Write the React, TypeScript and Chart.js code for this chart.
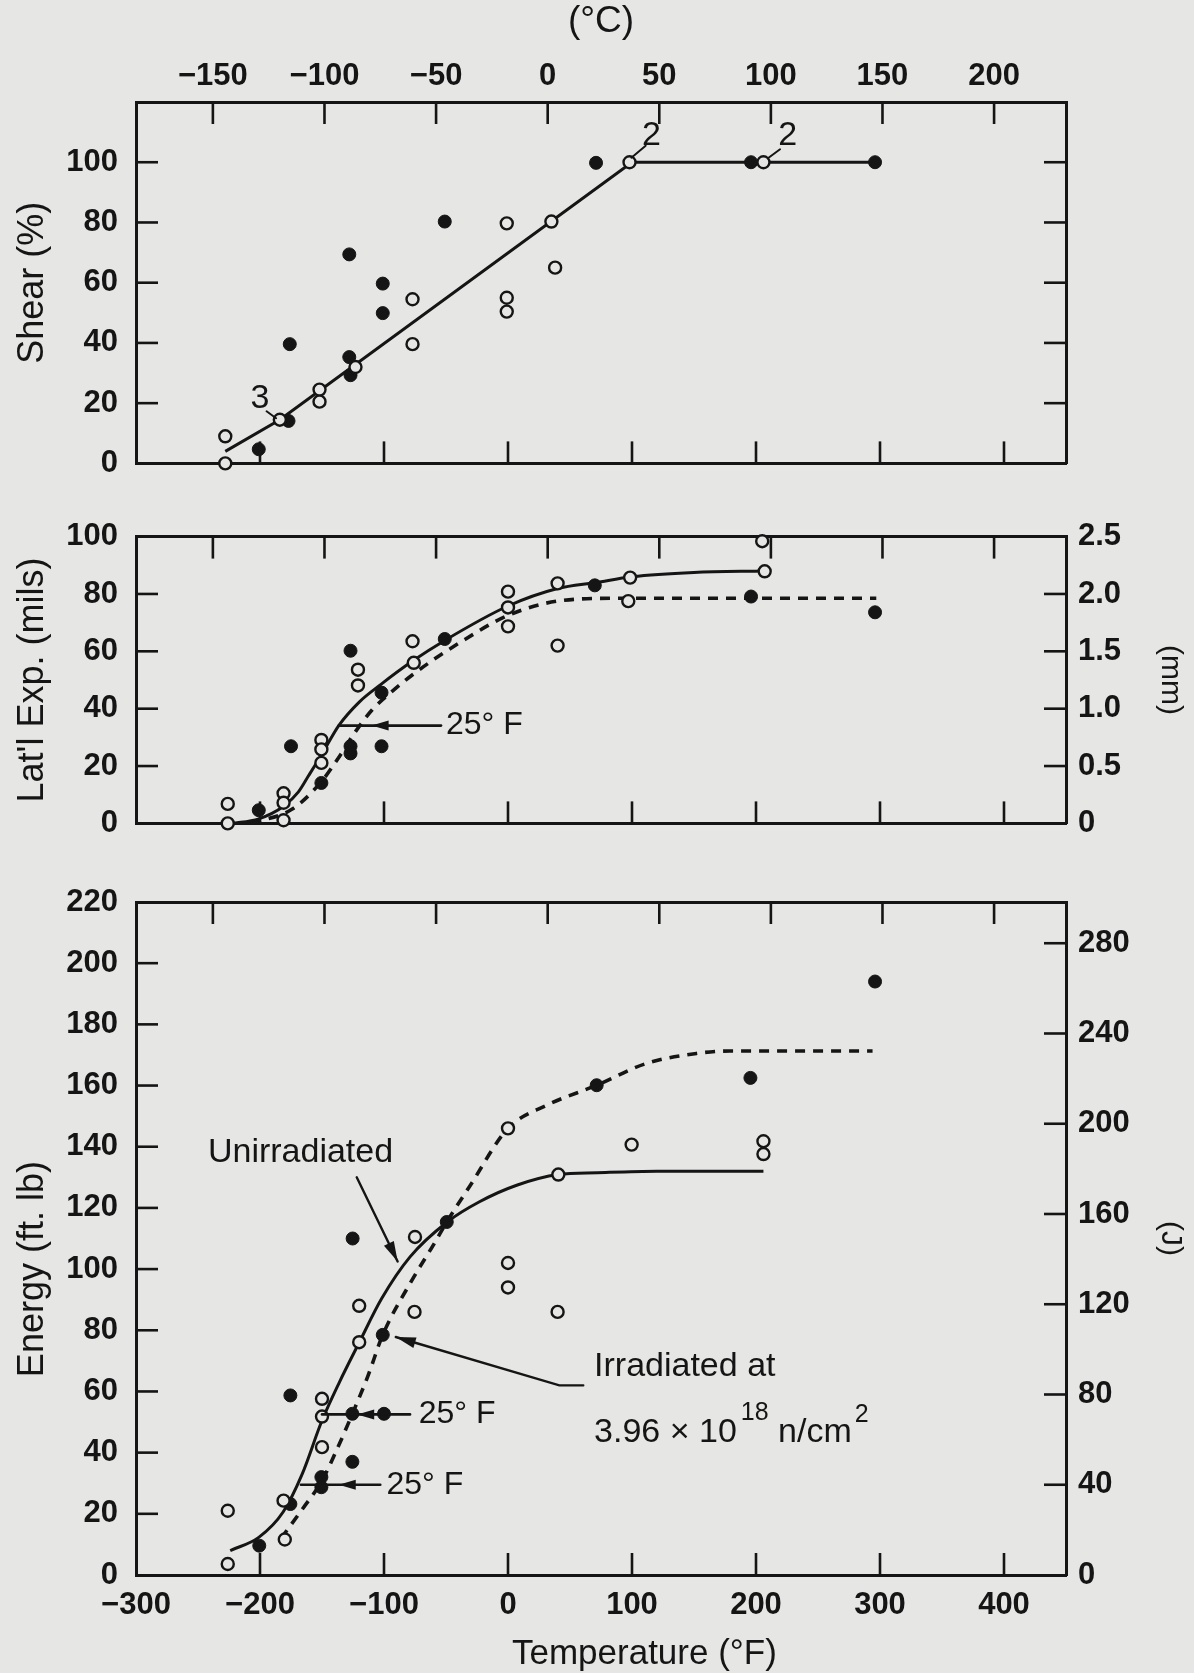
import React, { useEffect, useRef } from 'react';
import { Chart, registerables } from 'chart.js';

Chart.register(...registerables);

const PAPER = '#e6e6e4';
const INK = '#151515';
const NUM_FONT = "'Liberation Sans Narrow', 'Liberation Sans', Arial, sans-serif";
const TXT_FONT = "'Liberation Sans', Arial, sans-serif";

// ---------- tick values ----------
const fahrenheitTicks = [-300, -200, -100, 0, 100, 200, 300, 400];
const celsiusTicks = [-150, -100, -50, 0, 50, 100, 150, 200];
const shearTicks = [0, 20, 40, 60, 80, 100];
const expTicks = [0, 20, 40, 60, 80, 100];
const mmTicks = [0, 0.5, 1.0, 1.5, 2.0, 2.5];
const energyTicks = [0, 20, 40, 60, 80, 100, 120, 140, 160, 180, 200, 220];
const jouleTicks = [0, 40, 80, 120, 160, 200, 240, 280];

// ---------- Shear (%) ----------
const shearOpenF = [-228, -228, -184, -152, -152, -123, -77, -77, -1, -1, -1, 35, 38, 98, 206];
const shearOpenPct = [9, 0, 14.5, 24.5, 20.5, 32, 54.5, 39.6, 79.7, 55, 50.4, 80.3, 65, 100, 100];
const shearFilledF = [-201, -177, -176, -128, -128, -127, -101, -101, -51, 71, 196, 296];
const shearFilledPct = [4.7, 14.1, 39.6, 69.4, 35.3, 29.3, 59.7, 49.9, 80.3, 99.8, 100, 100];
const shearFitF = [-228, -184, 100, 296];
const shearFitPct = [4, 14.5, 100, 100];

// ---------- Lateral expansion (mils) ----------
const expOpenF = [-226, -226, -181, -181, -181, -150.5, -150.5, -150.5, -121, -121, -77, -76, 0, 0, 0, 40, 40, 98.5, 97, 207, 205];
const expOpenMils = [6.8, 0, 10.5, 7.2, 1.1, 29.1, 25.8, 21.1, 53.6, 48.1, 63.5, 56, 80.8, 75.3, 68.7, 83.7, 62, 85.7, 77.5, 87.9, 98.4];
const expFilledF = [-201, -175, -150.5, -127, -127, -127, -102, -102, -51, 70, 196, 296];
const expFilledMils = [4.6, 26.9, 14.1, 60.2, 26.9, 24.4, 45.6, 26.9, 64.3, 83, 79.1, 73.6];
const expUnirrF = [-223, -201, -181, -169, -161, -150, -136.5, -120, -102.7, -77, -51, 0, 40, 71, 100, 150, 207];
const expUnirrMils = [0, 1.6, 6, 11, 16.5, 24.2, 34.1, 42.3, 48.4, 56.6, 63.8, 75.8, 81.9, 84, 86, 87.5, 88];
const expIrrF = [-207, -174, -151, -136.5, -123, -109.5, -93, -74, -39, 0, 40, 90, 150, 297];
const expIrrMils = [0, 5, 14.3, 23, 32, 39.6, 46.2, 52.8, 63, 72.5, 77.5, 78.5, 78.5, 78.5];

// ---------- Energy (ft-lb) ----------
const energyOpenF = [-226, -226, -180, -181, -150, -150, -150, -120, -120, -75.4, -75, 0, 0, 0, 40, 40.6, 99.7, 206, 206];
const energyOpenFtlb = [3.6, 21, 11.6, 24.3, 57.6, 51.8, 41.8, 76.1, 88, 86, 110.5, 146, 102, 94, 86, 130.9, 140.7, 141.8, 137.6];
const energyFilledF = [-200.6, -175.5, -175.5, -150.5, -150.5, -125.5, -100, -125.5, -101, -125.3, -49.4, 71.5, 195.5, 296];
const energyFilledFtlb = [9.6, 58.7, 23.2, 32, 28.7, 52.7, 52.7, 37, 78.5, 110, 115.4, 160.1, 162.5, 194];
const energyUnirrF = [-224, -201, -181.5, -166, -150, -136, -120, -102, -79, -49, -23, 7, 40.6, 72, 120, 206];
const energyUnirrFtlb = [8, 12.3, 20.5, 33, 50.5, 63, 76, 90.3, 104, 115.4, 122, 127.4, 130.9, 131.5, 132, 132];
const energyIrrF = [-183, -165, -150.5, -138, -125.5, -113, -101, -78, -60, -49.4, -31, 0, 31, 71.5, 111.5, 152, 179, 294];
const energyIrrFtlb = [12, 22, 30.5, 41, 52.7, 65, 78.5, 96, 108, 115.4, 127, 146, 153.5, 160.1, 167.2, 170.5, 171.3, 171.3];

// ---------- annotations (data coordinates) ----------
const shearLabels = [
  { text: '3', x: -200, y: 21.4 },
  { text: '2', x: 115.6, y: 109 },
  { text: '2', x: 225.6, y: 109 },
];
const shearLeaders = [
  [[-194.7, 17.3], [-187, 15]],
  [[99.5, 101.5], [111, 105.5]],
  [[209.6, 101.3], [219.4, 104.3]],
];
const expShiftNotes = [{ y: 34.1, from: -136.5, to: -54, tip: -110, text: '25\u00b0 F', textX: -50 }];
const energyShiftNotes = [
  { y: 52.5, from: -150, to: -79, tip: -121.6, text: '25\u00b0 F', textX: -72 },
  { y: 29.5, from: -167, to: -103, tip: -136.5, text: '25\u00b0 F', textX: -98 },
];
const unirrNote = { text: 'Unirradiated', x: -242, y: 138, arrowFrom: [-122, 130], arrowTo: [-89, 102.5] };
const irrNote = {
  line1: 'Irradiated at', x: 69.4, y1: 68,
  base: '3.96 \u00d7 10', exp: '18', unit: ' n/cm', unitExp: '2', y2: 46.5,
  path: [[60.7, 62], [41.4, 62], [-90.5, 77.8]],
};

const T_MIN = -300;
const T_MAX = 450;
const SHEAR_MAX = 120;
const EXP_MAX = 100;
const MM_MAX = 2.5;
const ENERGY_MAX = 220;
const J_PER_FTLB = 1.3558;
const toC = (f: number) => (f - 32) / 1.8;

const pts = (xs: number[], ys: number[]) => xs.map((x, i) => ({ x, y: ys[i] }));
const fmt = (v: number) => (v < 0 ? '\u2212' + Math.abs(v) : String(v));
const setTicks = (vals: number[]) => (s: any) => {
  s.ticks = vals.map((v) => ({ value: v }));
};
const fixW = (w: number) => (s: any) => {
  s.width = w;
};
const fixH = (h: number) => (s: any) => {
  s.height = h;
};

const numFont = { family: NUM_FONT, size: 31, weight: 'bold' as const };
const txtFont = (size: number) => ({ family: TXT_FONT, size, weight: 'normal' as const });
const border = { display: true, width: 3, color: INK };
const noGrid = { display: false, drawTicks: false, drawOnChartArea: false };

const LEFT_W = 136;
const RIGHT_W = 128;

function xScales(topH: number, bottomH: number, bottomLabels: boolean, topLabels: boolean) {
  return {
    x: {
      type: 'linear',
      position: 'bottom',
      min: T_MIN,
      max: T_MAX,
      afterBuildTicks: setTicks(fahrenheitTicks),
      afterFit: fixH(bottomH),
      grid: noGrid,
      border,
      ticks: {
        display: bottomLabels,
        padding: 12,
        color: INK,
        font: numFont,
        autoSkip: false,
        maxRotation: 0,
        minRotation: 0,
        callback: (v: number) => fmt(v),
      },
    },
    xc: {
      type: 'linear',
      position: 'top',
      min: toC(T_MIN),
      max: toC(T_MAX),
      afterBuildTicks: setTicks(celsiusTicks),
      afterFit: fixH(topH),
      grid: noGrid,
      border,
      ticks: {
        display: topLabels,
        padding: 7,
        color: INK,
        font: numFont,
        autoSkip: false,
        maxRotation: 0,
        minRotation: 0,
        callback: (v: number) => fmt(v),
      },
      title: {
        display: topLabels,
        text: '(\u00b0C)',
        color: INK,
        font: txtFont(37),
        padding: { top: 0, bottom: 0 },
      },
    },
  };
}

function yScale(max: number, ticks: number[], position: 'left' | 'right', showLabels: boolean, title: string | null, fmtFn: (v: number) => string, titleSize = 36, titlePad = 11) {
  return {
    type: 'linear',
    position,
    min: 0,
    max,
    afterBuildTicks: setTicks(ticks),
    afterFit: fixW(position === 'left' ? LEFT_W : RIGHT_W),
    grid: noGrid,
    border,
    ticks: {
      display: showLabels,
      padding: position === 'left' ? 18 : 12,
      color: INK,
      font: numFont,
      autoSkip: false,
      callback: (v: number) => fmtFn(v),
    },
    title: {
      display: !!title,
      text: title || '',
      color: INK,
      font: txtFont(titleSize),
      padding: { top: titlePad, bottom: 0 },
    },
  };
}

// ---------- drawing helpers ----------
const inwardTicks = {
  id: 'inwardTicks',
  afterDatasetsDraw(chart: any) {
    const { ctx, chartArea: a } = chart;
    const L = 22;
    ctx.save();
    ctx.strokeStyle = INK;
    ctx.lineWidth = 2.6;
    Object.values(chart.scales).forEach((s: any) => {
      const pos = s.options.position;
      const horiz = pos === 'top' || pos === 'bottom';
      const lo = horiz ? a.left : a.top;
      const hi = horiz ? a.right : a.bottom;
      s.ticks.forEach((t: any) => {
        const p = s.getPixelForValue(t.value);
        if (p < lo + 6 || p > hi - 6) return;
        ctx.beginPath();
        if (pos === 'bottom') {
          ctx.moveTo(p, a.bottom);
          ctx.lineTo(p, a.bottom - L);
        } else if (pos === 'top') {
          ctx.moveTo(p, a.top);
          ctx.lineTo(p, a.top + L);
        } else if (pos === 'left') {
          ctx.moveTo(a.left, p);
          ctx.lineTo(a.left + L, p);
        } else {
          ctx.moveTo(a.right, p);
          ctx.lineTo(a.right - L, p);
        }
        ctx.stroke();
      });
    });
    ctx.restore();
  },
};

function P(chart: any, x: number, y: number): [number, number] {
  return [chart.scales.x.getPixelForValue(x), chart.scales.y.getPixelForValue(y)];
}
function strokePath(ctx: CanvasRenderingContext2D, p: [number, number][], w = 2.5) {
  ctx.lineWidth = w;
  ctx.beginPath();
  p.forEach(([x, y], i) => (i ? ctx.lineTo(x, y) : ctx.moveTo(x, y)));
  ctx.stroke();
}
function arrowHead(ctx: CanvasRenderingContext2D, tip: [number, number], from: [number, number], len = 17, half = 5) {
  const ang = Math.atan2(tip[1] - from[1], tip[0] - from[0]);
  const bx = tip[0] - len * Math.cos(ang);
  const by = tip[1] - len * Math.sin(ang);
  const nx = -Math.sin(ang) * half;
  const ny = Math.cos(ang) * half;
  ctx.beginPath();
  ctx.moveTo(tip[0], tip[1]);
  ctx.lineTo(bx + nx, by + ny);
  ctx.lineTo(bx - nx, by - ny);
  ctx.closePath();
  ctx.fill();
}
function text(ctx: CanvasRenderingContext2D, s: string, x: number, y: number, size: number, align: CanvasTextAlign = 'left') {
  ctx.font = `normal ${size}px ${TXT_FONT}`;
  ctx.textAlign = align;
  ctx.textBaseline = 'middle';
  ctx.fillText(s, x, y);
}
function shiftNote(chart: any, n: any) {
  const { ctx } = chart;
  strokePath(ctx, [P(chart, n.from, n.y), P(chart, n.to, n.y)], 2.6);
  const tip = P(chart, n.tip, n.y);
  arrowHead(ctx, tip, [tip[0] + 30, tip[1]]);
  const tp = P(chart, n.textX, n.y);
  text(ctx, n.text, tp[0], tp[1], 32);
}
function notesPlugin(draw: (chart: any) => void) {
  return {
    id: 'notes',
    afterDatasetsDraw(chart: any) {
      const { ctx } = chart;
      ctx.save();
      ctx.strokeStyle = INK;
      ctx.fillStyle = INK;
      ctx.lineCap = 'round';
      draw(chart);
      ctx.restore();
    },
  };
}

const openStyle = { pointRadius: 6, pointBackgroundColor: PAPER, pointBorderColor: INK, pointBorderWidth: 2.4, showLine: false, clip: false };
const filledStyle = { pointRadius: 6.5, pointBackgroundColor: INK, pointBorderColor: INK, pointBorderWidth: 1, showLine: false, clip: false };
const solidStyle = { showLine: true, pointRadius: 0, borderColor: INK, borderWidth: 3, cubicInterpolationMode: 'monotone', clip: false };
const dashedStyle = { ...solidStyle, borderWidth: 3.6, borderDash: [10, 8] };

const baseOptions = {
  responsive: false,
  maintainAspectRatio: false,
  animation: false,
  events: [],
  layout: { padding: 0 },
  plugins: { legend: { display: false }, tooltip: { enabled: false }, title: { display: false } },
};

function shearConfig(): any {
  return {
    type: 'scatter',
    data: {
      datasets: [
        { label: 'Unirradiated', data: pts(shearOpenF, shearOpenPct), ...openStyle },
        { label: 'Irradiated', data: pts(shearFilledF, shearFilledPct), ...filledStyle },
        { label: 'Fit', data: pts(shearFitF, shearFitPct), ...solidStyle, cubicInterpolationMode: 'default', tension: 0 },
      ],
    },
    options: {
      ...baseOptions,
      scales: {
        ...xScales(102, 28, false, true),
        y: yScale(SHEAR_MAX, shearTicks, 'left', true, 'Shear (%)', fmt),
        y2: yScale(SHEAR_MAX, shearTicks, 'right', false, null, fmt),
      },
    },
    plugins: [
      inwardTicks,
      notesPlugin((chart) => {
        const { ctx } = chart;
        shearLeaders.forEach((l) => strokePath(ctx, l.map(([x, y]) => P(chart, x, y)), 2));
        shearLabels.forEach((l) => {
          const p = P(chart, l.x, l.y);
          text(ctx, l.text, p[0], p[1], 34, 'center');
        });
      }),
    ],
  };
}

function expConfig(): any {
  return {
    type: 'scatter',
    data: {
      datasets: [
        { label: 'Unirradiated', data: pts(expOpenF, expOpenMils), ...openStyle },
        { label: 'Irradiated', data: pts(expFilledF, expFilledMils), ...filledStyle },
        { label: 'Unirradiated fit', data: pts(expUnirrF, expUnirrMils), ...solidStyle },
        { label: 'Irradiated fit', data: pts(expIrrF, expIrrMils), ...dashedStyle },
      ],
    },
    options: {
      ...baseOptions,
      scales: {
        ...xScales(33, 23, false, false),
        y: yScale(EXP_MAX, expTicks, 'left', true, "Lat'l Exp. (mils)", fmt),
        y2: yScale(MM_MAX, mmTicks, 'right', true, '(mm)', (v) => (v === 0 ? '0' : v.toFixed(1)), 30, 6),
      },
    },
    plugins: [
      inwardTicks,
      notesPlugin((chart) => {
        expShiftNotes.forEach((n) => shiftNote(chart, n));
      }),
    ],
  };
}

function energyConfig(): any {
  return {
    type: 'scatter',
    data: {
      datasets: [
        { label: 'Unirradiated', data: pts(energyOpenF, energyOpenFtlb), ...openStyle },
        { label: 'Irradiated', data: pts(energyFilledF, energyFilledFtlb), ...filledStyle },
        { label: 'Unirradiated fit', data: pts(energyUnirrF, energyUnirrFtlb), ...solidStyle },
        { label: 'Irradiated fit', data: pts(energyIrrF, energyIrrFtlb), ...dashedStyle },
      ],
    },
    options: {
      ...baseOptions,
      scales: {
        ...xScales(42, 98, true, false),
        y: yScale(ENERGY_MAX, energyTicks, 'left', true, null, fmt),
        y2: yScale(ENERGY_MAX * J_PER_FTLB, jouleTicks, 'right', true, '(J)', fmt, 30, 6),
      },
    },
    plugins: [
      inwardTicks,
      notesPlugin((chart) => {
        const { ctx } = chart;
        energyShiftNotes.forEach((n) => shiftNote(chart, n));
        // Unirradiated label + arrow
        const u = P(chart, unirrNote.x, unirrNote.y);
        text(ctx, unirrNote.text, u[0], u[1], 34);
        const a0 = P(chart, unirrNote.arrowFrom[0], unirrNote.arrowFrom[1]);
        const a1 = P(chart, unirrNote.arrowTo[0], unirrNote.arrowTo[1]);
        strokePath(ctx, [a0, a1], 2.4);
        arrowHead(ctx, a1, a0, 20, 5.5);
        // Irradiated label + arrow
        const path = irrNote.path.map(([x, y]) => P(chart, x, y));
        strokePath(ctx, path, 2.4);
        arrowHead(ctx, path[path.length - 1], path[path.length - 2], 20, 5.5);
        const l1 = P(chart, irrNote.x, irrNote.y1);
        text(ctx, irrNote.line1, l1[0], l1[1], 34);
        const l2 = P(chart, irrNote.x, irrNote.y2);
        let cx = l2[0];
        text(ctx, irrNote.base, cx, l2[1], 34);
        cx += ctx.measureText(irrNote.base).width + 4;
        text(ctx, irrNote.exp, cx, l2[1] - 20, 25);
        cx += ctx.measureText(irrNote.exp).width;
        text(ctx, irrNote.unit, cx, l2[1], 34);
        cx += ctx.measureText(irrNote.unit).width + 3;
        text(ctx, irrNote.unitExp, cx, l2[1] - 18, 25);
        // axis titles placed like the original
        const ty = chart.scales.y.getPixelForValue(100);
        ctx.save();
        ctx.translate(33, ty);
        ctx.rotate(-Math.PI / 2);
        text(ctx, 'Energy (ft. lb)', 0, 0, 36, 'center');
        ctx.restore();
        const tx = chart.scales.x.getPixelForValue(110);
        text(ctx, 'Temperature (\u00b0F)', tx, chart.height - 19, 35, 'center');
      }),
    ],
  };
}

export default function App() {
  const a = useRef<HTMLCanvasElement>(null);
  const b = useRef<HTMLCanvasElement>(null);
  const c = useRef<HTMLCanvasElement>(null);
  useEffect(() => {
    const charts = [
      new Chart(a.current as HTMLCanvasElement, shearConfig()),
      new Chart(b.current as HTMLCanvasElement, expConfig()),
      new Chart(c.current as HTMLCanvasElement, energyConfig()),
    ];
    return () => charts.forEach((ch) => ch.destroy());
  }, []);
  return (
    <div style={{ position: 'absolute', left: 0, top: 0, width: 1194, height: 1673, background: PAPER, overflow: 'hidden' }}>
      <canvas ref={a} width={1194} height={500} style={{ position: 'absolute', left: 0, top: 0 }} />
      <canvas ref={b} width={1194} height={360} style={{ position: 'absolute', left: 0, top: 500 }} />
      <canvas ref={c} width={1194} height={813} style={{ position: 'absolute', left: 0, top: 860 }} />
    </div>
  );
}
